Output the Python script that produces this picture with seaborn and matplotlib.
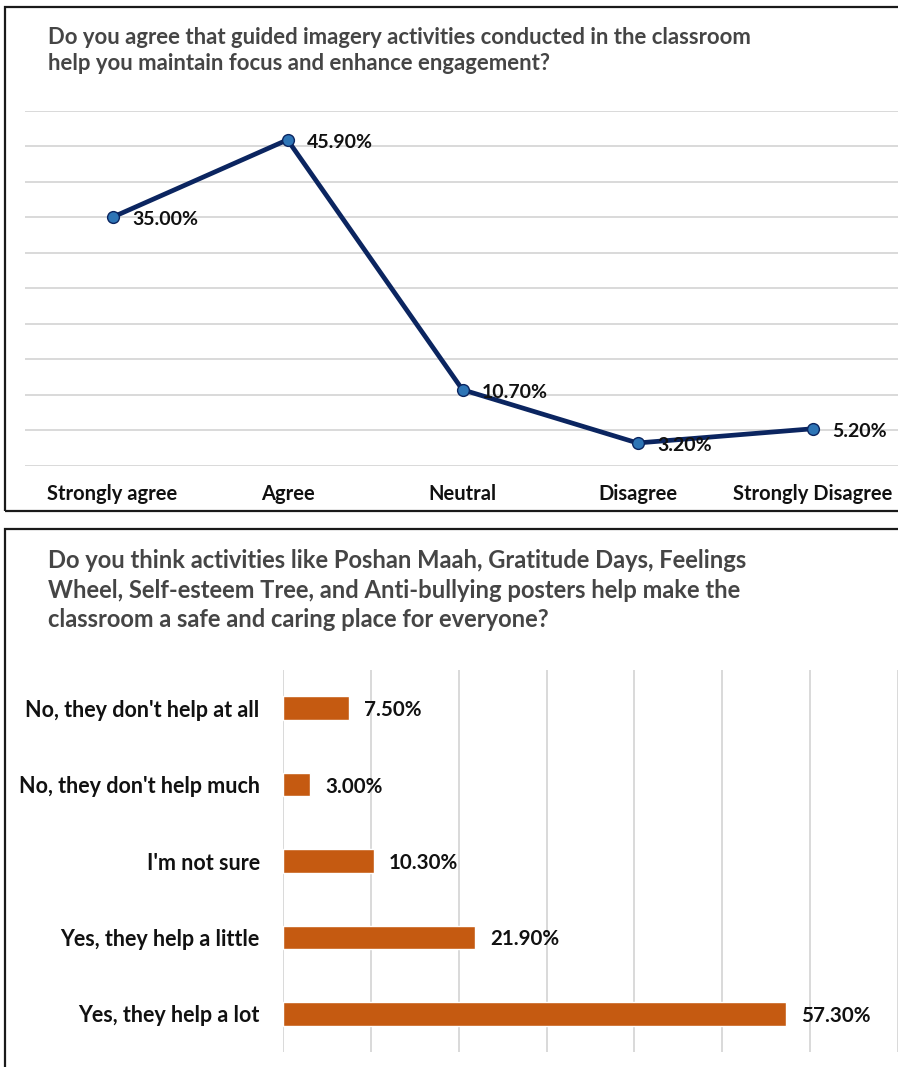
import matplotlib
matplotlib.use("Agg")
import matplotlib.pyplot as plt
from matplotlib.patches import Rectangle
import numpy as np
import pandas as pd
import seaborn as sns

# Survey results
agree_levels = ["Strongly agree", "Agree", "Neutral", "Disagree", "Strongly Disagree"]
agree_pct = [35.0, 45.9, 10.7, 3.2, 5.2]

helpfulness_levels = [
    "No, they don't help at all",
    "No, they don't help much",
    "I'm not sure",
    "Yes, they help a little",
    "Yes, they help a lot",
]
helpfulness_pct = [7.5, 3.0, 10.3, 21.9, 57.3]

title_focus = ("Do you agree that guided imagery activities conducted in the classroom\n"
               "help you maintain focus and enhance engagement?")
title_caring = ("Do you think activities like Poshan Maah, Gratitude Days, Feelings\n"
                "Wheel, Self-esteem Tree, and Anti-bullying posters help make the\n"
                "classroom a safe and caring place for everyone?")

sns.set_theme(style="white")
plt.rcParams["font.family"] = ["Lato", "DejaVu Sans"]

W, H, DPI = 898, 1067, 100
fig = plt.figure(figsize=(W / DPI, H / DPI), dpi=DPI)
fig.patch.set_facecolor("white")


def px_box(left, top, right, bottom):
    """Axes rectangle from pixel edges measured from the top-left corner."""
    return [left / W, 1 - bottom / H, (right - left) / W, (bottom - top) / H]


GRID = "#D9D9D9"
TITLE_COLOR = "#454545"
INK = "#111111"

# Panel frames (open on the right / bottom where they run off the canvas)
for (l, t, r, b) in [(5, 7, 910, 511), (5, 529, 910, 1080)]:
    fig.add_artist(Rectangle((l / W, 1 - b / H), (r - l) / W, (b - t) / H,
                             transform=fig.transFigure, fill=False,
                             edgecolor="#1A1A1A", linewidth=1.6, clip_on=False))

# ---- Line chart: guided imagery ----
ax1 = fig.add_axes(px_box(25, 110.7, 900, 465.7))
df1 = pd.DataFrame({"response": agree_levels, "pct": agree_pct})
sns.lineplot(data=df1, x="response", y="pct", ax=ax1, sort=False,
             color="#0B2560", linewidth=3.4, marker="o", markersize=8.5,
             markerfacecolor="#2E75B6", markeredgecolor="#0B2560",
             markeredgewidth=1.0, zorder=3)
ax1.set_xlim(-0.5, 4.5)
ax1.set_ylim(0, 50)
ax1.set_yticks(np.arange(0, 51, 5))
ax1.yaxis.grid(True, color=GRID, linewidth=1.4)
ax1.xaxis.grid(False)
ax1.set_yticklabels([])
ax1.tick_params(axis="y", length=0)
ax1.set_xticks(range(len(agree_levels)))
ax1.set_xticklabels(agree_levels, fontsize=14.5, fontweight="bold", color=INK)
ax1.tick_params(axis="x", length=0, pad=13)
ax1.set_xlabel("")
ax1.set_ylabel("")
for s in ax1.spines.values():
    s.set_visible(False)
for i, v in enumerate(agree_pct):
    ax1.annotate(f"{v:.2f}%", (i, v), xytext=(14, -2), textcoords="offset points",
                 ha="left", va="center", zorder=4,
                 fontsize=14, fontweight="bold", color=INK)

# ---- Bar chart: classroom activities ----
ax2 = fig.add_axes(px_box(283.3, 670, 897.5, 1052))
df2 = pd.DataFrame({"response": helpfulness_levels, "pct": helpfulness_pct})
sns.barplot(data=df2, x="pct", y="response", ax=ax2, orient="h",
            color="#C55A11", width=0.31, saturation=1)
ax2.set_xlim(0, 70)
ax2.set_ylim(4.5, -0.5)
ax2.set_axisbelow(True)
ax2.set_xticks(np.arange(0, 71, 10))
ax2.xaxis.grid(True, color=GRID, linewidth=1.4)
ax2.yaxis.grid(False)
ax2.set_xticklabels([])
ax2.tick_params(axis="x", length=0)
ax2.set_yticks(range(len(helpfulness_levels)))
ax2.set_yticklabels(helpfulness_levels, fontsize=15.5, fontweight="bold", color=INK)
ax2.tick_params(axis="y", length=0, pad=17)
ax2.set_xlabel("")
ax2.set_ylabel("")
for s in ax2.spines.values():
    s.set_visible(False)
for i, v in enumerate(helpfulness_pct):
    ax2.annotate(f"{v:.2f}%", (v, i), xytext=(11, -1.5), textcoords="offset points",
                 ha="left", va="center", fontsize=14.8, fontweight="bold", color=INK)

# ---- Titles, scaled so the longest line spans the intended width ----
renderer = fig.canvas.get_renderer()


def fitted_title(x_px, top_px, text, width_px, linespacing):
    t = fig.text(x_px / W, 1 - top_px / H, text, ha="left", va="top",
                 fontsize=14, fontweight="bold", color=TITLE_COLOR,
                 linespacing=linespacing)
    w = t.get_window_extent(renderer).width
    t.set_fontsize(14 * width_px / w)
    return t


fitted_title(48, 27, title_focus, 707, 1.3)
fitted_title(48, 549, title_caring, 704, 1.35)

fig.savefig("out.png", dpi=DPI, facecolor="white")
